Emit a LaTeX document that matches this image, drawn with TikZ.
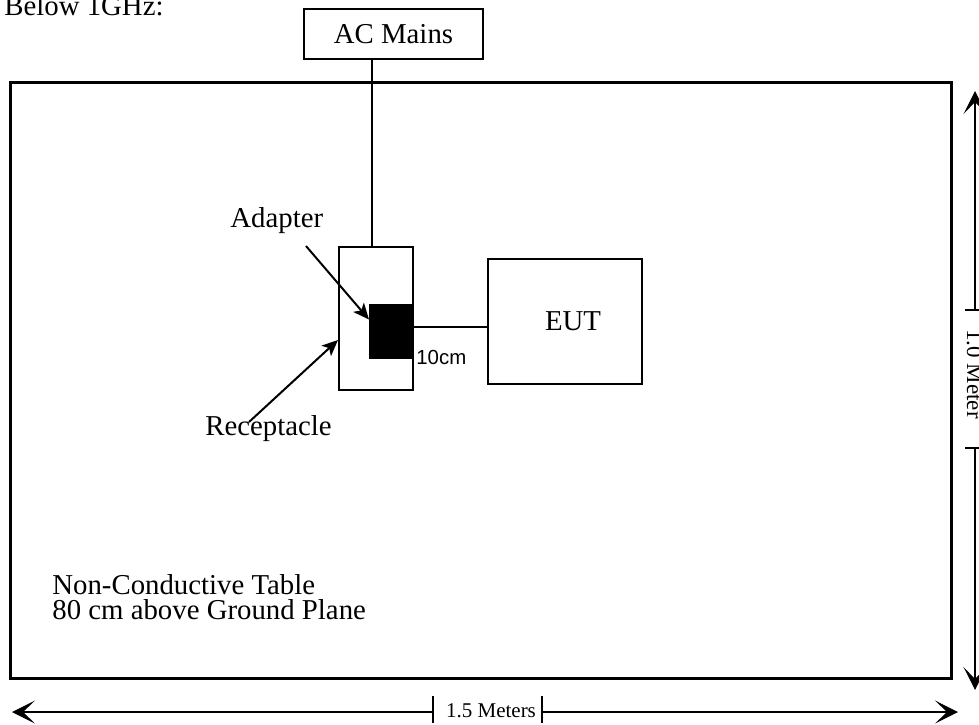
\documentclass[tikz,border=0pt]{standalone}
\usepackage{fontspec}
\setmainfont{Liberation Serif}
\setsansfont{Liberation Sans}
\usetikzlibrary{arrows.meta}
\begin{document}
\begin{tikzpicture}[x=0.5pt,y=-0.5pt]

        % Styles
        \tikzstyle{box}=[draw,line width=1pt,inner sep=0pt]
        \tikzstyle{table line}=[draw,line width=1.5pt,inner sep=0pt]
        \tikzstyle{big text}=[inner sep=0pt,font=\fontsize{14.4}{12.5}\selectfont]
        \tikzstyle{small text}=[inner sep=0pt,font=\fontsize{10.5}{12}\selectfont]
        \tikzstyle{pointer}=[line width=1pt,-{Stealth[length=8pt,width=7pt,inset=2pt]}]
        \tikzstyle{dim line}=[line width=0.6pt,-{Stealth[length=11.5pt,width=11.5pt,inset=6pt]}]
        \useasboundingbox (0,0) rectangle (979,724);
        %The graphic
        \node[big text,anchor=base west] (title) at (4,15) {Below 1GHz:};
        \node[box,big text,minimum width=89.5pt,minimum height=25pt] (mains) at (393.5,34) {AC Mains};
        \node[table line,minimum width=470.5pt,minimum height=298pt] (table) at (480.5,380) {};
        \node[box,minimum width=37pt,minimum height=71.5pt] (recep) at (376,318.5) {};
        \node[box,fill=black,minimum width=21.5pt,minimum height=26.5pt] (adapter) at (391.5,331.5) {};
        \node[box,big text,minimum width=77pt,minimum height=62.5pt] (eut) at (565,321.5) {\hspace*{8pt}EUT\\[10pt]};
        %cables
        \draw[line width=0.8pt] ([xshift=-2pt]recep.north) -- ([xshift=-2pt]recep.north |- mains.south);
        \draw[line width=0.8pt] ([yshift=2.25pt]adapter.east) -- ([yshift=2.25pt]adapter.east -| eut.west);
        \node[inner sep=0pt,anchor=base west,font=\sffamily\fontsize{10.2}{12}\selectfont] (cablelen) at (416,364) {10cm};
        %labels
        \node[big text,anchor=base west] (adlabel) at (230,227) {Adapter};
        \node[big text,anchor=base west] (reclabel) at (205,435) {Receptacle};
        \coordinate (adtail) at (306,246);
        \coordinate (rectail) at (249,422);
        \draw[pointer] (adtail) -- ([yshift=6pt]adapter.west);
        \draw[pointer] (rectail) -- ([yshift=-10.75pt]recep.west);
        \node[big text,anchor=north west,align=left] (tablelabel) at (52,574) {Non-Conductive Table\\80 cm above Ground Plane};
        %dimensions
        \coordinate (vtop) at (975,91);
        \coordinate (vbot) at (975,690);
        \coordinate (vt1) at (975,310);
        \coordinate (vt2) at (975,448);
        \coordinate (hleft) at (12,712);
        \coordinate (hright) at (958,712);
        \coordinate (ht1) at (433,712);
        \coordinate (ht2) at (542,712);
        \draw[dim line] (vt1) -- (vtop);
        \draw[dim line] (vt2) -- (vbot);
        \draw[dim line] (ht1) -- (hleft);
        \draw[dim line] (ht2) -- (hright);
        \foreach \t in {vt1,vt2}
            \draw[line width=0.6pt] ([xshift=-5pt]\t) -- ([xshift=5pt]\t);
        \foreach \t in {ht1,ht2}
            \draw[line width=0.6pt] ([yshift=8pt]\t) -- ([yshift=-5.5pt]\t);
        \node[small text,font=\fontsize{11.5}{12}\selectfont,rotate=-90,anchor=base] (vlen) at (967,374) {1.0 Meter};
        \node[small text,anchor=base] (hlen) at (491,717) {1.5 Meters};
\end{tikzpicture}
\end{document}
